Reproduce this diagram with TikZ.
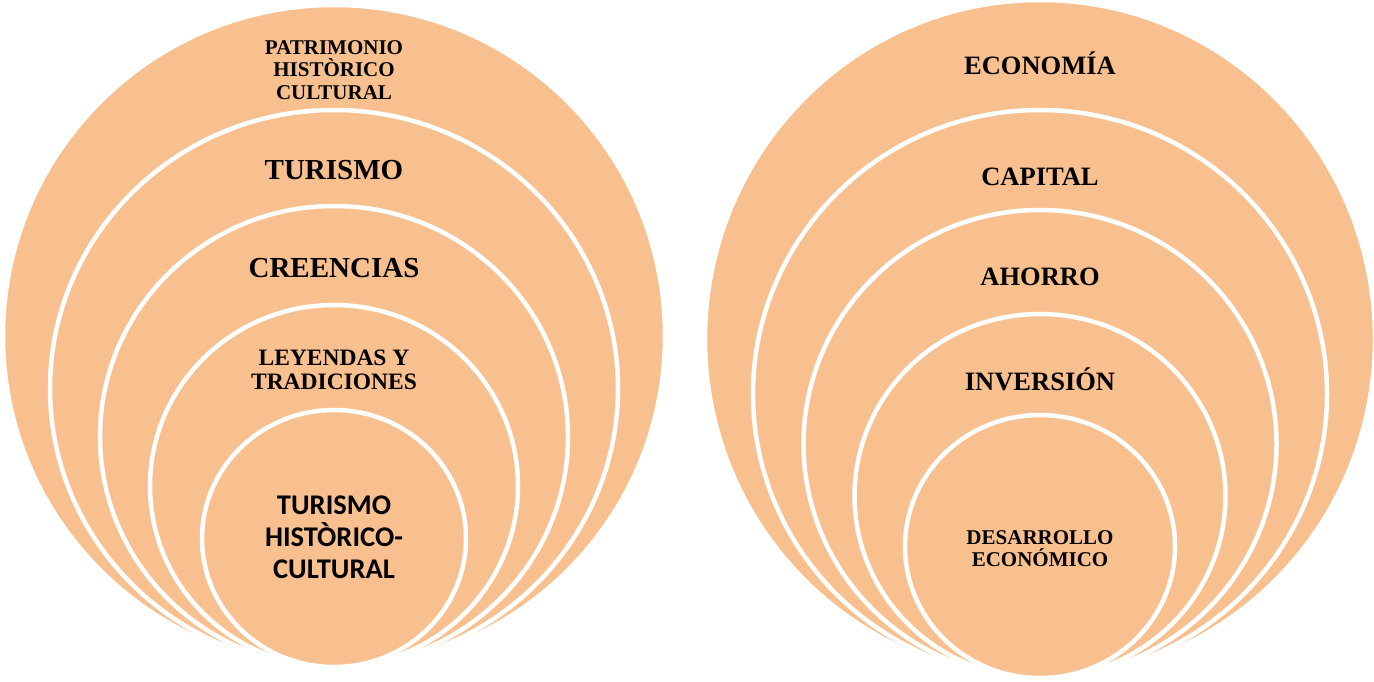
\documentclass[tikz,border=0pt]{standalone}
\usepackage{fontspec}
\setmainfont{Liberation Serif}
\newfontfamily\calib{Carlito}
\definecolor{peach}{RGB}{249,192,143}
\tikzset{
  ring/.style={fill=peach, draw=white, line width=4.5pt},
  lbl/.style={font=\bfseries, align=center, inner sep=0pt, text=black}
}
\begin{document}
\begin{tikzpicture}[x=1pt,y=-1pt]
\clip (0,0) rectangle (1374,681);
\fill[white] (0,0) rectangle (1374,681);
% left stack (bottom at 667)
\path[ring] (334,336) ellipse [x radius=331pt, y radius=331pt];
\path[ring] (334,388.5) ellipse [x radius=284pt, y radius=278.5pt];
\path[ring] (334,436.5) ellipse [x radius=234pt, y radius=230.5pt];
\path[ring] (334,486) ellipse [x radius=184pt, y radius=181pt];
\path[ring] (334,538.5) ellipse [x radius=132pt, y radius=128.5pt];
% right stack (bottom at 678)
\path[ring] (1040,339) ellipse [x radius=335pt, y radius=339pt];
\path[ring] (1040,394) ellipse [x radius=287pt, y radius=284pt];
\path[ring] (1040,444) ellipse [x radius=236.5pt, y radius=234pt];
\path[ring] (1040,496) ellipse [x radius=185.5pt, y radius=182pt];
\path[ring] (1040,546.5) ellipse [x radius=135pt, y radius=131.5pt];
% left labels
\node[lbl, font=\bfseries\fontsize{21}{22.5}\selectfont] (patr) at (334,70) {PATRIMONIO\\HISTÒRICO\\CULTURAL};
\node[lbl, font=\bfseries\fontsize{29}{30}\selectfont] (tur) at (334,170) {TURISMO};
\node[lbl, font=\bfseries\fontsize{29}{30}\selectfont] (cree) at (334,268) {CREENCIAS};
\node[lbl, font=\bfseries\fontsize{23.5}{24}\selectfont] (ley) at (334,370) {LEYENDAS Y\\TRADICIONES};
\node[lbl, font=\calib\bfseries\fontsize{28.5}{32}\selectfont] (thc) at (334,537) {TURISMO\\HISTÒRICO-\\CULTURAL};
% right labels
\node[lbl, font=\bfseries\fontsize{26.5}{28}\selectfont] (eco) at (1040,63) {ECONOMÍA};
\node[lbl, font=\bfseries\fontsize{26.5}{28}\selectfont] (cap) at (1040,177) {CAPITAL};
\node[lbl, font=\bfseries\fontsize{26.5}{28}\selectfont] (aho) at (1040,277) {AHORRO};
\node[lbl, font=\bfseries\fontsize{26.5}{28}\selectfont] (inv) at (1040,379) {INVERSIÓN};
\node[lbl, font=\bfseries\fontsize{21}{22}\selectfont] (des) at (1040,549) {DESARROLLO\\ECONÓMICO};
\end{tikzpicture}
\end{document}
